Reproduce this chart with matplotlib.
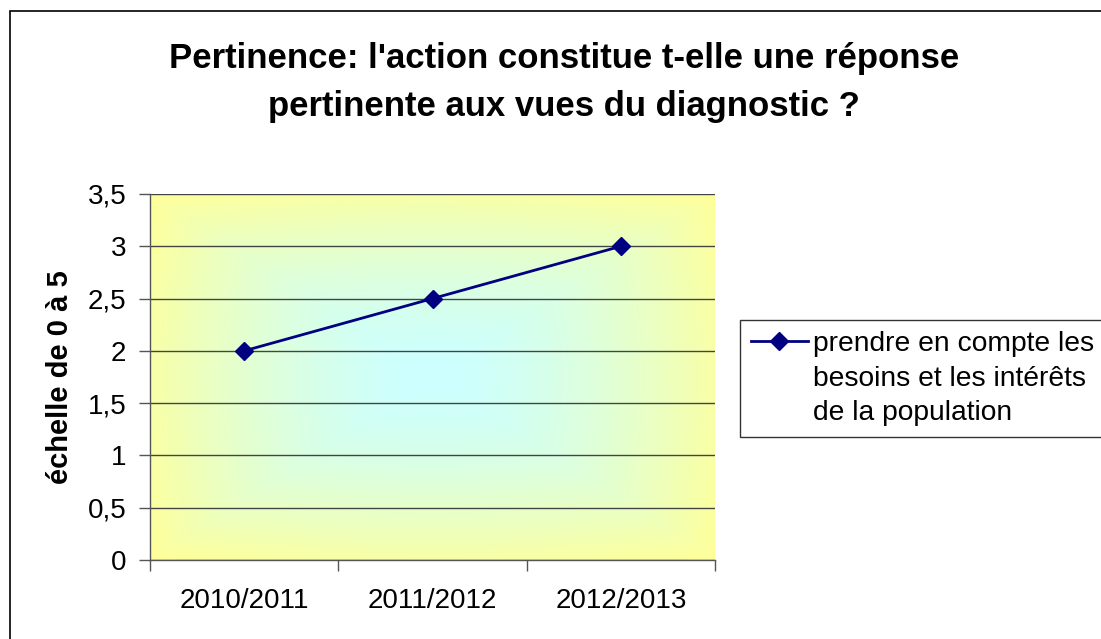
import numpy as np
import matplotlib
matplotlib.use("Agg")
from matplotlib import pyplot as plt
from matplotlib.patches import Rectangle
from matplotlib.ticker import FixedLocator, FuncFormatter

plt.rcParams['font.family'] = ['Liberation Sans', 'DejaVu Sans']

# données
annees = ['2010/2011', '2011/2012', '2012/2013']
valeurs = [2, 2.5, 3]
serie_label = 'prendre en compte les\nbesoins et les intérêts\nde la population'
titre = "Pertinence: l'action constitue t-elle une réponse\npertinente aux vues du diagnostic ?"
y_label = 'échelle de 0 à 5'
y_ticks = [0, 0.5, 1, 1.5, 2, 2.5, 3, 3.5]

W, H = 1101, 639
fig = plt.figure(figsize=(W / 100, H / 100), dpi=100)
fig.patch.set_facecolor('white')

# cadre extérieur (coupé à droite et en bas)
fig.patches.append(Rectangle((10 / W, -0.05), 1.2, 1 - 11 / H + 0.05,
                             transform=fig.transFigure, fill=False,
                             edgecolor='black', linewidth=1.2))

ax = fig.add_axes([150 / W, 1 - 560 / H, (715 - 150) / W, (560 - 194) / H])

# fond dégradé du centre (cyan) vers les bords (jaune)
nx, ny = 400, 300
gx, gy = np.meshgrid(np.linspace(-1, 1, nx), np.linspace(-1, 1, ny))
t = 0.7 * np.maximum(abs(gx), abs(gy)) + 0.3 * np.sqrt(gx ** 2 + gy ** 2) / 1.41
t = np.clip(t, 0, 1) ** 1.6
c_centre = np.array([204, 255, 255]) / 255
c_bord = np.array([255, 255, 153]) / 255
img = c_centre[None, None, :] * (1 - t[..., None]) + c_bord[None, None, :] * t[..., None]
ax.imshow(img, extent=(0, 1, 0, 1), transform=ax.transAxes, aspect='auto', zorder=0)

x = np.arange(len(annees))
ax.plot(x, valeurs, color='#000080', linewidth=2, marker='D', markersize=9,
        label=serie_label, zorder=3)

ax.set_xlim(-0.5, len(annees) - 0.5)
ax.set_ylim(0, 3.5)

ax.yaxis.set_major_locator(FixedLocator(y_ticks))
ax.yaxis.set_major_formatter(FuncFormatter(lambda v, p: ('%g' % v).replace('.', ',')))
ax.grid(axis='y', color='#444444', linewidth=1)
for gl in ax.get_ygridlines():
    gl.set_zorder(1)

ax.xaxis.set_major_locator(FixedLocator(np.arange(len(annees) + 1) - 0.5))
ax.xaxis.set_major_formatter(FuncFormatter(lambda v, p: ''))
ax.xaxis.set_minor_locator(FixedLocator(x))
ax.xaxis.set_minor_formatter(FuncFormatter(lambda v, p: annees[int(round(v))]))

ax.tick_params(axis='both', which='major', direction='out', length=8, width=1,
               color='#555555', labelsize=20, pad=9)
ax.tick_params(axis='x', which='minor', length=0, labelsize=20, pad=20)

for s in ['top', 'right']:
    ax.spines[s].set_visible(False)
for s in ['left', 'bottom']:
    ax.spines[s].set_color('#555555')
    ax.spines[s].set_linewidth(1)

ax.set_ylabel(y_label, fontsize=21, fontweight='bold', labelpad=10)

fig.text(564 / W, 1 - 42 / H, titre, ha='center', va='top', fontsize=25,
         fontweight='bold', linespacing=1.58)

leg = ax.legend(loc='upper left', bbox_to_anchor=(740 / W, 1 - 320 / H),
                bbox_transform=fig.transFigure, fontsize=20.3, frameon=True,
                fancybox=False, edgecolor='black', borderpad=0.4,
                handlelength=2.0, handletextpad=0.2, borderaxespad=0)
leg.get_frame().set_linewidth(1)
leg.get_texts()[0].set_linespacing(1.42)
# poignée alignée sur la première ligne du texte
for col in leg._legend_handle_box.get_children():
    for hp in col.get_children():
        hp.align = 'top'

fig.savefig('out.png', dpi=100)
